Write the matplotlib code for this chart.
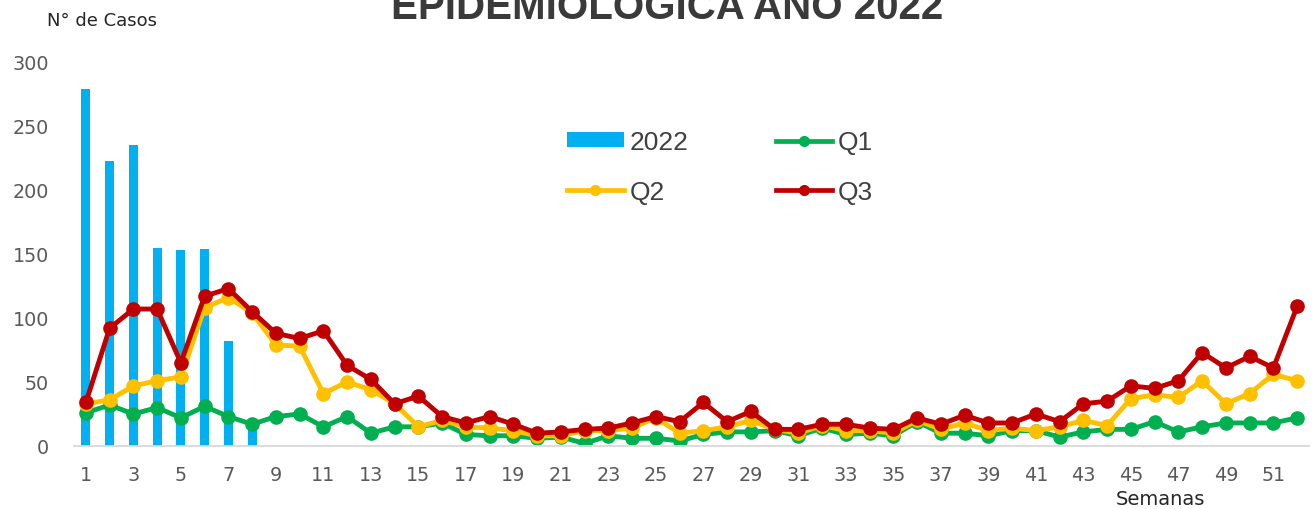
import matplotlib
matplotlib.use("Agg")
import matplotlib.pyplot as plt
from matplotlib.lines import Line2D
from matplotlib.patches import Patch

weeks = list(range(1, 53))
bar_weeks = [1, 2, 3, 4, 5, 6, 7, 8]
cases_2022 = [279, 223, 235, 155, 153, 154, 82, 20]

q1 = [26, 32, 25, 30, 22, 31, 23, 17, 23, 25, 15, 23, 10, 15, 15, 18, 9, 8, 8, 6,
      7, 2, 8, 6, 6, 4, 9, 11, 11, 12, 8, 14, 9, 10, 8, 19, 10, 10, 8, 12,
      12, 7, 11, 13, 13, 19, 11, 15, 18, 18, 18, 22]
q2 = [33, 36, 47, 51, 54, 108, 116, 104, 79, 78, 41, 50, 44, 33, 15, 20, 15, 14, 12, 8,
      8, 12, 12, 14, 22, 10, 12, 15, 20, 13, 10, 16, 12, 12, 10, 20, 13, 18, 12, 14,
      12, 15, 20, 16, 37, 40, 38, 51, 33, 41, 56, 51]
q3 = [34, 92, 107, 107, 65, 117, 123, 105, 88, 84, 90, 63, 52, 33, 39, 23, 18, 23, 17, 10,
      11, 13, 14, 18, 23, 19, 34, 19, 27, 13, 13, 17, 17, 14, 13, 22, 17, 24, 18, 18,
      25, 19, 33, 35, 47, 45, 51, 73, 61, 70, 61, 109]

xtick_labels = [str(w) for w in range(1, 53, 2)]
yticks = [0, 50, 100, 150, 200, 250, 300]

title = "EPIDEMIOLÓGICA AÑO 2022"

W, H = 1315, 510
fig = plt.figure(figsize=(W / 100, H / 100), dpi=100)
ax = fig.add_axes([74 / W, (H - 447) / H, (1309 - 74) / W, (447 - 63) / H])

c_bar = "#00B0F0"
c_q1 = "#00B050"
c_q2 = "#FFC000"
c_q3 = "#C00000"

ax.bar(bar_weeks, cases_2022, width=0.37, color=c_bar, zorder=1)
lw, ms = 3.5, 9.5
ax.plot(weeks, q1, color=c_q1, lw=lw, marker="o", ms=ms, zorder=2)
ax.plot(weeks, q2, color=c_q2, lw=lw, marker="o", ms=ms, zorder=3)
ax.plot(weeks, q3, color=c_q3, lw=lw, marker="o", ms=ms, zorder=4)

ax.set_xlim(0.5, 52.5)
ax.set_ylim(0, 300)
ax.set_xticks(list(range(1, 53, 2)))
ax.set_xticklabels(xtick_labels)
ax.set_yticks(yticks)
for s in ["top", "right", "left"]:
    ax.spines[s].set_visible(False)
ax.spines["bottom"].set_color("#d9d9d9")
ax.spines["bottom"].set_linewidth(1.3)
ax.tick_params(axis="both", length=0, labelsize=13.8, colors="#595959")
ax.tick_params(axis="y", pad=18)
ax.tick_params(axis="x", pad=14)

fig.text(47 / W, 1 - 21 / H, "N° de Casos", fontsize=13, color="#262626",
         ha="left", va="center")
fig.text(1160 / W, 1 - 500 / H, "Semanas", fontsize=14, color="#262626",
         ha="center", va="center")
fig.text(667 / W, 1 - 19 / H, title, fontsize=29, fontweight="bold",
         family="Liberation Sans", color="#3a3a3a", ha="center", va="baseline")

handles = [
    Patch(facecolor=c_bar, edgecolor="none"),
    Line2D([], [], color=c_q2, lw=3.4, marker="o", ms=7),
    Line2D([], [], color=c_q1, lw=3.4, marker="o", ms=7),
    Line2D([], [], color=c_q3, lw=3.4, marker="o", ms=7),
]
labels = ["2022", "Q2", "Q1", "Q3"]
leg = fig.legend(handles, labels, ncol=2, loc="upper left",
                 bbox_to_anchor=(567 / W, 1 - 131 / H), frameon=False,
                 prop={"family": "Liberation Sans", "size": 19},
                 handlelength=2.15, handleheight=0.5, handletextpad=0.22,
                 columnspacing=3.3, labelspacing=0.97, borderpad=0, borderaxespad=0)
for t in leg.get_texts():
    t.set_color("#404040")

fig.savefig("out.png", dpi=100)
